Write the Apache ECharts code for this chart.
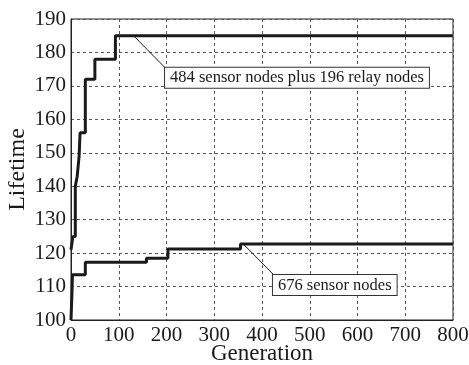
<!DOCTYPE html>
<html>
<head>
<meta charset="utf-8">
<script src="https://cdn.jsdelivr.net/npm/echarts@6/dist/echarts.min.js"></script>
<style>
  html, body { margin: 0; padding: 0; background: #fff; }
  #chart { width: 469px; height: 365px; }
</style>
</head>
<body>
<div id="chart"></div>
<script>
// 484 sensor nodes plus 196 relay nodes (step changes: generation -> lifetime)
const relayGen = [0, 4, 9, 13, 17, 19, 30, 50, 93, 800]
const relayLife = [121, 125, 140, 143, 149, 156, 172, 178, 185, 185]
// 676 sensor nodes
const sensorGen = [0, 1, 2, 3, 30, 158, 203, 355, 800]
const sensorLife = [100, 104, 108, 113.5, 117.3, 118.5, 121.2, 122.7, 122.7]

const xTicks = [0, 100, 200, 300, 400, 500, 600, 700, 800]
const yTicks = [100, 110, 120, 130, 140, 150, 160, 170, 180, 190]

const relayLabel = '484 sensor nodes plus 196 relay nodes'
const sensorLabel = '676 sensor nodes'
// leader lines: [from point on curve, to label box corner]
const relayLeader = [[131, 185], [198, 175.3]]
const sensorLeader = [[361, 122.7], [426, 113.3]]

const font = "'Liberation Serif', 'Times New Roman', serif"
const ink = '#1a1a1a'

const chart = echarts.init(document.getElementById('chart'))

const zip = (xs, ys) => xs.map((x, i) => [x, ys[i]])

const boxLabel = {
  show: true,
  position: [0, 0],
  color: ink,
  fontFamily: font,
  fontSize: 16.5,
  backgroundColor: '#fff',
  borderColor: '#333',
  borderWidth: 1,
  padding: [2, 5, 1, 5]
}

const leader = (pts) => ({
  silent: true,
  symbol: 'none',
  animation: false,
  lineStyle: { color: ink, width: 1, type: 'solid' },
  label: { show: false },
  data: [[{ coord: pts[0] }, { coord: pts[1] }]]
})

const option = {
  animation: false,
  grid: {
    left: 71,
    right: 16,
    top: 19,
    bottom: 45,
    outerBoundsMode: 'none',
    containLabel: false,
    show: true,
    borderColor: '#222',
    borderWidth: 1
  },
  xAxis: {
    type: 'value',
    min: 0,
    max: 800,
    interval: 100,
    name: 'Generation',
    nameLocation: 'middle',
    nameGap: 22,
    nameMoveOverlap: false,
    nameTextStyle: { color: ink, fontFamily: font, fontSize: 23 },
    axisLine: { show: true, lineStyle: { color: '#222', width: 1 } },
    axisTick: { show: false },
    axisLabel: {
      color: ink,
      fontFamily: font,
      fontSize: 21,
      margin: 5,
      formatter: (v) => (xTicks.includes(v) ? String(v) : '')
    },
    splitLine: {
      show: true,
      lineStyle: { color: '#555', width: 1, type: [3, 3] }
    }
  },
  yAxis: {
    type: 'value',
    min: 100,
    max: 190,
    interval: 10,
    name: 'Lifetime',
    nameLocation: 'middle',
    nameRotate: 90,
    nameGap: 41,
    nameMoveOverlap: false,
    nameTextStyle: { color: ink, fontFamily: font, fontSize: 24 },
    axisLine: { show: true, lineStyle: { color: '#222', width: 1 } },
    axisTick: { show: false },
    axisLabel: {
      color: ink,
      fontFamily: font,
      fontSize: 21,
      margin: 5,
      formatter: (v) => (yTicks.includes(v) ? String(v) : '')
    },
    splitLine: {
      show: true,
      lineStyle: { color: '#555', width: 1, type: [3, 3] }
    }
  },
  series: [
    {
      name: relayLabel,
      type: 'line',
      step: 'end',
      symbol: 'none',
      lineStyle: { color: ink, width: 3 },
      data: zip(relayGen, relayLife),
      markLine: leader(relayLeader),
      markPoint: {
        symbol: 'circle',
        symbolSize: 1,
        itemStyle: { color: 'transparent' },
        label: Object.assign({}, boxLabel, { formatter: relayLabel }),
        data: [{ coord: relayLeader[1] }]
      }
    },
    {
      name: sensorLabel,
      type: 'line',
      step: 'end',
      symbol: 'none',
      lineStyle: { color: ink, width: 3 },
      data: zip(sensorGen, sensorLife),
      markLine: leader(sensorLeader),
      markPoint: {
        symbol: 'circle',
        symbolSize: 1,
        itemStyle: { color: 'transparent' },
        label: Object.assign({}, boxLabel, { formatter: sensorLabel }),
        data: [{ coord: [sensorLeader[1][0] - 2, sensorLeader[1][1]] }]
      }
    }
  ]
}

chart.setOption(option)
</script>
</body>
</html>
